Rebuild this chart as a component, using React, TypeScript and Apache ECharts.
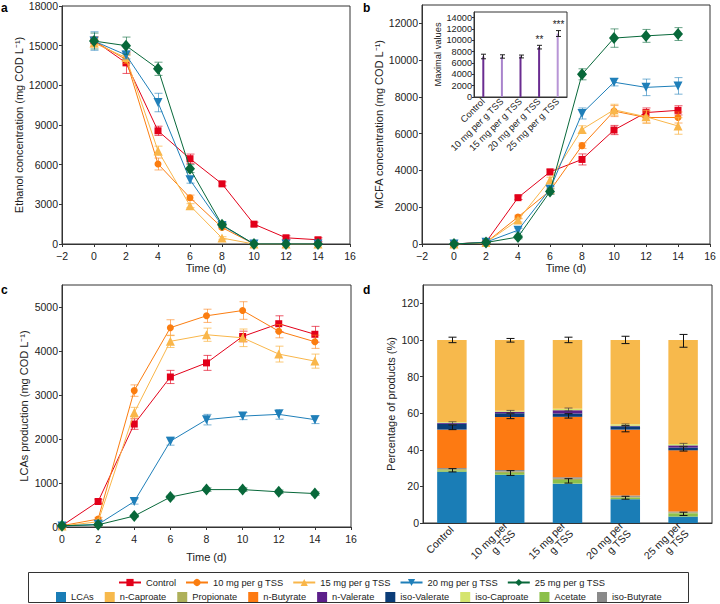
import React, { useEffect, useRef } from 'react';
import * as echarts from 'echarts';

const FONT = 'Liberation Sans, Arial, Helvetica, sans-serif';

const days = [0, 2, 4, 6, 8, 10, 12, 14];
const groups = ['Control', '10 mg per g TSS', '15 mg per g TSS', '20 mg per g TSS', '25 mg per g TSS'];
const groupColors = ['#e2001a', '#fb7d10', '#f9b64a', '#1f7fb9', '#08683a'];
const errColors = ['rgba(226,0,26,0.65)', 'rgba(251,125,16,0.6)', 'rgba(249,182,74,0.75)', 'rgba(31,127,185,0.6)', 'rgba(8,104,58,0.6)'];
const symbols = ['rect', 'circle', 'triangle', 'triangle', 'diamond'];
const symbolRot = [0, 0, 0, 180, 0];
const symbolSizes: any[] = [7, 7, 9, 9, [10, 12]];

// Panel a: ethanol concentration
const ethanol = [
  [15400, 13700, 8560, 6450, 4550, 1500, 470, 320],
  [15350, 13950, 6050, 3500, 1250, 0, 0, 0],
  [15200, 14100, 7050, 2900, 450, 0, 0, 0],
  [15350, 14300, 10700, 4850, 1400, 0, 0, 0],
  [15350, 15000, 13250, 5700, 1450, 0, 0, 0],
];
const ethanolErr = [
  [250, 800, 350, 350, 150, 150, 150, 150],
  [300, 300, 450, 200, 100, 0, 0, 0],
  [300, 300, 350, 150, 100, 0, 0, 0],
  [700, 300, 700, 250, 150, 0, 0, 0],
  [600, 650, 500, 300, 150, 0, 0, 0],
];

// Panel b: MCFA concentration
const mcfa = [
  [0, 100, 2520, 3920, 4600, 6200, 7150, 7270],
  [0, 80, 1470, 2900, 5350, 7230, 6880, 6880],
  [0, 80, 1300, 3480, 6230, 7300, 6920, 6420],
  [0, 100, 750, 2980, 7100, 8800, 8520, 8600],
  [0, 80, 380, 2850, 9230, 11200, 11320, 11420],
];
const mcfaErr = [
  [50, 50, 100, 150, 300, 250, 250, 250],
  [50, 50, 100, 150, 150, 300, 300, 300],
  [50, 50, 100, 150, 200, 300, 350, 450],
  [50, 50, 100, 150, 300, 200, 450, 450],
  [50, 50, 100, 150, 300, 500, 350, 350],
];

// Inset: maximal values
const maxValues = [7150, 7150, 7150, 8800, 11200];
const maxErr = [400, 300, 250, 320, 520];
const maxSig = ['', '', '', '**', '***'];
const maxColors = ['#6a2c91', '#a983cc', '#6a2c91', '#6a2c91', '#b895d6'];

// Panel c: LCAs production
const lcas = [
  [30, 580, 2340, 3410, 3730, 4330, 4620, 4380],
  [30, 180, 3100, 4530, 4800, 4920, 4450, 4210],
  [20, 120, 2600, 4220, 4370, 4300, 3930, 3770],
  [20, 60, 580, 1950, 2440, 2520, 2560, 2440],
  [30, 50, 250, 680, 850, 850, 800, 760],
];
const lcasErr = [
  [30, 50, 120, 150, 170, 120, 180, 180],
  [30, 40, 130, 180, 150, 200, 150, 150],
  [30, 40, 120, 140, 150, 200, 180, 160],
  [20, 30, 60, 90, 120, 80, 110, 90],
  [20, 20, 30, 40, 40, 40, 40, 40],
];

// Panel d: percentage of products
const productCats = ['Control', '10 mg per\ng TSS', '15 mg per\ng TSS', '20 mg per\ng TSS', '25 mg per\ng TSS'];
const products = ['LCAs', 'Acetate', 'Propionate', 'iso-Butyrate', 'n-Butyrate', 'iso-Valerate', 'n-Valerate', 'iso-Caproate', 'n-Caproate'];
const productColors = ['#1a7db6', '#8cc04a', '#aeb05a', '#8a8a8a', '#fd7a12', '#0b3d78', '#5c1f8a', '#d5e46e', '#f7b94c'];
const productValues = [
  [28.0, 26.3, 21.5, 13.0, 3.5],
  [0.8, 1.0, 2.0, 0.8, 1.8],
  [0.6, 0.8, 0.7, 0.5, 0.5],
  [0.6, 0.8, 0.8, 0.7, 0.5],
  [21.0, 29.0, 33.0, 36.0, 33.4],
  [3.2, 2.0, 1.8, 1.8, 1.5],
  [0.5, 0.8, 1.8, 0.3, 1.2],
  [0.4, 0.6, 0.8, 0.8, 0.8],
  [44.9, 38.7, 37.6, 46.1, 56.8],
];
const productLegend = ['LCAs', 'n-Caproate', 'Propionate', 'n-Butyrate', 'n-Valerate', 'iso-Valerate', 'iso-Caproate', 'Acetate', 'iso-Butyrate'];
const dErrLow = [28.8, 27.3, 23.0, 13.8, 5.0];
const dErrLowSd = [0.9, 1.3, 1.2, 0.8, 0.9];
const dErrMid = [52.3, 58.5, 58.5, 51.5, 40.5];
const dErrMidSd = [1.3, 1.5, 1.2, 1.7, 1.2];
const dErrUp = [54.5, 60.5, 62.0, 53.5, 42.7];
const dErrUpSd = [0.8, 1.0, 0.8, 0.6, 0.8];
const dErrTop = [100, 99.8, 100, 100, 99.5];
const dErrTopSd = [1.5, 1.0, 1.5, 2.0, 3.5];

const ticksA = [0, 3000, 6000, 9000, 12000, 15000, 18000];
const ticksB = [0, 2000, 4000, 6000, 8000, 10000, 12000];
const ticksInset = [0, 2000, 4000, 6000, 8000, 10000, 12000, 14000];
const ticksC = [0, 1000, 2000, 3000, 4000, 5000];
const ticksD = [0, 20, 40, 60, 80, 100, 120];

const AX = '#333';
const plain = (v: number) => String(v).replace('-', '\u2212');

function errSeries(name: string, axis: number, data: number[][], color: string, cap: number, z: number, labels?: string[]) {
  return {
    type: 'custom',
    name,
    xAxisIndex: axis,
    yAxisIndex: axis,
    z,
    silent: true,
    data,
    encode: { x: 0, y: 1 },
    renderItem: (params: any, api: any) => {
      const x = api.value(0);
      const y = api.value(1);
      const e = api.value(2);
      const children: any[] = [];
      const hi = api.coord([x, y + e]);
      const lo = api.coord([x, y - e]);
      const cx = Math.round(hi[0]) + 0.5;
      if (e > 0) {
        const s = { stroke: color, lineWidth: 1 };
        children.push({ type: 'line', shape: { x1: cx, y1: hi[1], x2: cx, y2: lo[1] }, style: s });
        children.push({ type: 'line', shape: { x1: cx - cap, y1: hi[1], x2: cx + cap, y2: hi[1] }, style: s });
        children.push({ type: 'line', shape: { x1: cx - cap, y1: lo[1], x2: cx + cap, y2: lo[1] }, style: s });
      }
      if (labels && labels[params.dataIndex]) {
        children.push({
          type: 'text',
          style: { text: labels[params.dataIndex], x: cx, y: hi[1] - 1, align: 'center', verticalAlign: 'bottom', font: `10px ${FONT}`, fill: '#222' },
        });
      }
      return { type: 'group', children };
    },
  };
}

function lineSet(values: number[][], errs: number[][], axis: number, prefix: string) {
  const out: any[] = [];
  groups.forEach((g, i) => {
    out.push({
      type: 'line',
      name: g,
      xAxisIndex: axis,
      yAxisIndex: axis,
      data: days.map((d, j) => [d, values[i][j]]),
      symbol: symbols[i],
      symbolSize: symbolSizes[i],
      symbolRotate: symbolRot[i],
      showSymbol: true,
      lineStyle: { color: groupColors[i], width: 1 },
      itemStyle: { color: groupColors[i] },
      z: 3 + i,
      silent: true,
    });
    out.push(errSeries(prefix + i, axis, days.map((d, j) => [d, values[i][j], errs[i][j]]), errColors[i], 4, 3 + i));
  });
  return out;
}

const tickLabel = { fontSize: 10.5, color: '#222', fontFamily: FONT };
const nameStyle = { fontSize: 11, color: '#222', fontFamily: FONT };

function timeAxis(grid: number, min: number, nameGap: number) {
  return {
    gridIndex: grid,
    type: 'value',
    min,
    max: 16,
    interval: 2,
    axisLine: { onZero: false, lineStyle: { color: AX, width: 1 } },
    axisTick: { length: 3, lineStyle: { color: AX } },
    splitLine: { show: false },
    axisLabel: { ...tickLabel, margin: 6, formatter: plain },
    name: 'Time (d)',
    nameLocation: 'middle',
    nameGap,
    nameTextStyle: nameStyle,
  };
}

function valueAxis(grid: number, max: number, ticks: number[], name: string, nameGap: number) {
  return {
    gridIndex: grid,
    type: 'value',
    min: 0,
    max,
    axisLine: { show: true, onZero: false, lineStyle: { color: AX, width: 1 } },
    axisTick: { show: true, length: 3, lineStyle: { color: AX }, customValues: ticks },
    splitLine: { show: false },
    axisLabel: { ...tickLabel, margin: 4, customValues: ticks, formatter: plain },
    name,
    nameLocation: 'middle',
    nameGap,
    nameTextStyle: nameStyle,
  };
}

export default function App() {
  const ref = useRef<HTMLDivElement>(null);
  useEffect(() => {
    if (!ref.current) return;
    const chart = echarts.init(ref.current, undefined, { renderer: 'svg' });
    const gridBase = { show: true, borderColor: AX, borderWidth: 1, backgroundColor: 'transparent' };

    const barSeries = products.map((p, k) => ({
      type: 'bar',
      name: p,
      xAxisIndex: 3,
      yAxisIndex: 3,
      stack: 'd',
      barWidth: '51%',
      data: productValues[k],
      itemStyle: { color: productColors[k] },
      silent: true,
      z: 2,
    }));

    const option: any = {
      animation: false,
      textStyle: { fontFamily: FONT },
      grid: [
        { ...gridBase, left: 62, right: 370, top: 6, bottom: 360 },
        { ...gridBase, left: 422, right: 10, top: 5, bottom: 360 },
        { ...gridBase, left: 62, right: 369, top: 285, bottom: 77 },
        { ...gridBase, left: 423, right: 8, top: 285, bottom: 81 },
        { ...gridBase, left: 474, right: 153, top: 12, bottom: 507, backgroundColor: '#fff', z: 5 },
      ],
      xAxis: [
        timeAxis(0, -2, 18),
        timeAxis(1, -2, 18),
        timeAxis(2, 0, 24),
        {
          gridIndex: 3,
          type: 'category',
          data: productCats,
          axisLine: { lineStyle: { color: AX } },
          axisTick: { alignWithLabel: true, length: 3, lineStyle: { color: AX } },
          axisLabel: { ...tickLabel, rotate: 45, margin: 5, lineHeight: 11, interval: 0 },
        },
        {
          gridIndex: 4,
          type: 'category',
          data: groups,
          z: 6,
          axisLine: { lineStyle: { color: AX } },
          axisTick: { alignWithLabel: true, length: 2, lineStyle: { color: AX } },
          axisLabel: { fontSize: 9.3, color: '#222', fontFamily: FONT, rotate: 45, margin: 3, interval: 0 },
        },
      ],
      yAxis: [
        { ...valueAxis(0, 18000, ticksA, 'Ethanol concentration (mg COD L\u207B\u00B9)', 35) },
        { ...valueAxis(1, 13000, ticksB, 'MCFA concentration (mg COD L\u207B\u00B9)', 37) },
        { ...valueAxis(2, 5500, ticksC, 'LCAs production (mg COD L\u207B\u00B9)', 33) },
        { ...valueAxis(3, 130, ticksD, 'Percentage of products (%)', 27) },
        {
          ...valueAxis(4, 15000, ticksInset, 'Maximal values', 30),
          z: 6,
          axisTick: { show: true, length: 2, lineStyle: { color: AX }, customValues: ticksInset },
          axisLabel: { fontSize: 9.2, color: '#222', fontFamily: FONT, margin: 2, customValues: ticksInset, formatter: plain },
          nameTextStyle: { fontSize: 9.3, color: '#222', fontFamily: FONT },
        },
      ],
      legend: [
        {
          data: groups,
          left: 113,
          top: 573,
          itemWidth: 22,
          itemHeight: 9,
          itemGap: 9,
          selectedMode: false,
          textStyle: { fontSize: 9.3, color: '#222', fontFamily: FONT },
        },
        {
          data: productLegend,
          left: 51,
          top: 587,
          icon: 'rect',
          itemWidth: 10,
          itemHeight: 10,
          itemGap: 11,
          selectedMode: false,
          textStyle: { fontSize: 9.3, color: '#222', fontFamily: FONT },
        },
      ],
      graphic: [
        { type: 'text', x: 1, y: 8, style: { text: 'a', font: `bold 12px ${FONT}`, fill: '#000', verticalAlign: 'middle' } },
        { type: 'text', x: 363, y: 8, style: { text: 'b', font: `bold 12px ${FONT}`, fill: '#000', verticalAlign: 'middle' } },
        { type: 'text', x: 1, y: 290, style: { text: 'c', font: `bold 12px ${FONT}`, fill: '#000', verticalAlign: 'middle' } },
        { type: 'text', x: 363, y: 290, style: { text: 'd', font: `bold 12px ${FONT}`, fill: '#000', verticalAlign: 'middle' } },
        { type: 'rect', shape: { x: 28.5, y: 572.5, width: 660, height: 30 }, style: { fill: 'none', stroke: AX, lineWidth: 1 } },
      ],
      series: [
        ...lineSet(ethanol, ethanolErr, 0, 'errA'),
        ...lineSet(mcfa, mcfaErr, 1, 'errB'),
        ...lineSet(lcas, lcasErr, 2, 'errC'),
        ...barSeries,
        errSeries('errD1', 3, dErrLow.map((v, i) => [i, v, dErrLowSd[i]]), '#111', 4, 10),
        errSeries('errD2', 3, dErrMid.map((v, i) => [i, v, dErrMidSd[i]]), '#111', 4, 10),
        errSeries('errD3', 3, dErrUp.map((v, i) => [i, v, dErrUpSd[i]]), 'rgba(60,60,60,0.7)', 4, 10),
        errSeries('errD4', 3, dErrTop.map((v, i) => [i, v, dErrTopSd[i]]), '#111', 4, 10),
        {
          type: 'bar',
          name: 'maximal',
          xAxisIndex: 4,
          yAxisIndex: 4,
          barWidth: 2,
          data: maxValues.map((v, i) => ({ value: v, itemStyle: { color: maxColors[i] } })),
          silent: true,
          z: 7,
        },
        errSeries('errInset', 4, maxValues.map((v, i) => [i, v, maxErr[i]]), '#222', 2.5, 8, maxSig),
      ],
    };
    chart.setOption(option);
    return () => chart.dispose();
  }, []);
  return <div ref={ref} style={{ position: 'fixed', left: 0, top: 0, width: 720, height: 604, background: '#fff' }} />;
}
